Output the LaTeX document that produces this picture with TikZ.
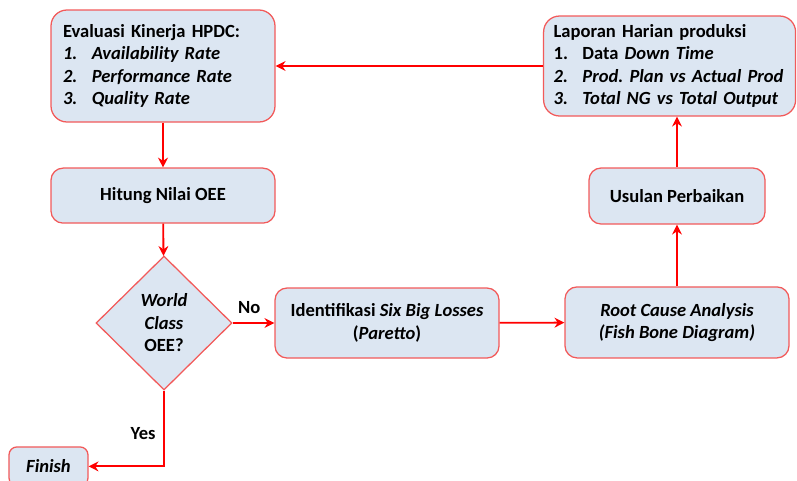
\documentclass[tikz,border=0pt]{standalone}
\usepackage{fontspec}
\setmainfont{Carlito}
\usetikzlibrary{shapes.geometric,arrows.meta}

\definecolor{boxfill}{HTML}{DCE6F2}
\definecolor{boxline}{HTML}{F25A5A}
\definecolor{flowred}{HTML}{FF0000}

\newcommand{\numline}[2]{\makebox[0.72cm][l]{#1}#2}

\begin{document}
\frenchspacing
\begin{tikzpicture}[
    font=\fontsize{13.2}{16}\selectfont\bfseries,
    box/.style={rectangle, rounded corners=0.3cm, draw=boxline, line width=0.9pt, fill=boxfill, align=center},
    listbox/.style={box, rounded corners=0.4cm, align=left, inner xsep=0.3cm},
    decision/.style={diamond, draw=boxline, line width=0.9pt, fill=boxfill, align=center, inner sep=0pt},
    arrow/.style={-{Stealth[length=7pt,width=7pt]}, draw=flowred, line width=1.3pt}
]
    \useasboundingbox (0,0) rectangle (19.925,-12);

    % Input
    \node[listbox, text width=5.0cm, minimum height=2.8cm] (eval) at (4.075,-1.65) {Evaluasi Kinerja HPDC:\\
        \numline{\textit{1.}}{\textit{Availability Rate}}\\
        \numline{\textit{2.}}{\textit{Performance Rate}}\\
        \numline{\textit{3.}}{\textit{Quality Rate}}};
    \node[listbox, inner xsep=0.25cm, text width=5.8cm, minimum height=2.5cm] (lapor) at (16.74,-1.65) {Laporan Harian produksi\\
        \numline{1.}{Data \textit{Down Time}}\\
        \numline{\textit{2.}}{\textit{Prod. Plan vs Actual Prod}}\\
        \numline{\textit{3.}}{\textit{Total NG vs Total Output}}};

    % Process
    \node[box, minimum width=5.6cm, minimum height=1.375cm] (hitung) at (4.075,-4.89) {Hitung Nilai OEE};
    \node[decision, minimum width=3.4cm, minimum height=3.35cm] (oee) at (4.1,-8.075) {\textit{World}\\\textit{Class}\\OEE?};
    \node[box, minimum width=5.6cm, minimum height=1.75cm] (ident) at (9.675,-8.075) {Identifikasi \textit{Six Big Losses}\\(\textit{Paretto})};
    \node[box, minimum width=5.6cm, minimum height=1.775cm] (root) at (16.925,-8.06) {\textit{Root Cause Analysis}\\\textit{(Fish Bone Diagram)}};
    \node[box, minimum width=4.4cm, minimum height=1.4cm] (usulan) at (16.925,-4.9) {Usulan Perbaikan};

    % End
    \node[box, rounded corners=0.2cm, minimum width=1.975cm, minimum height=0.975cm] (finish) at (1.2125,-11.66) {\textit{Finish}};

    % Arrows
    \draw[arrow] (lapor.west) -- (eval.east);
    \draw[arrow] (eval) -- (hitung);
    \draw[arrow] (hitung) -- (oee);
    \draw[arrow] (oee.east) -- (ident.west) node[pos=0.4, above=3pt] {No};
    \draw[arrow] (ident) -- (root);
    \draw[arrow] (root) -- (usulan);
    \draw[arrow] (usulan) -- (lapor.south -| usulan);
    \draw[arrow] (oee.south) |- (finish.east) node[pos=0.28, left=2pt] {Yes};

\end{tikzpicture}
\end{document}
